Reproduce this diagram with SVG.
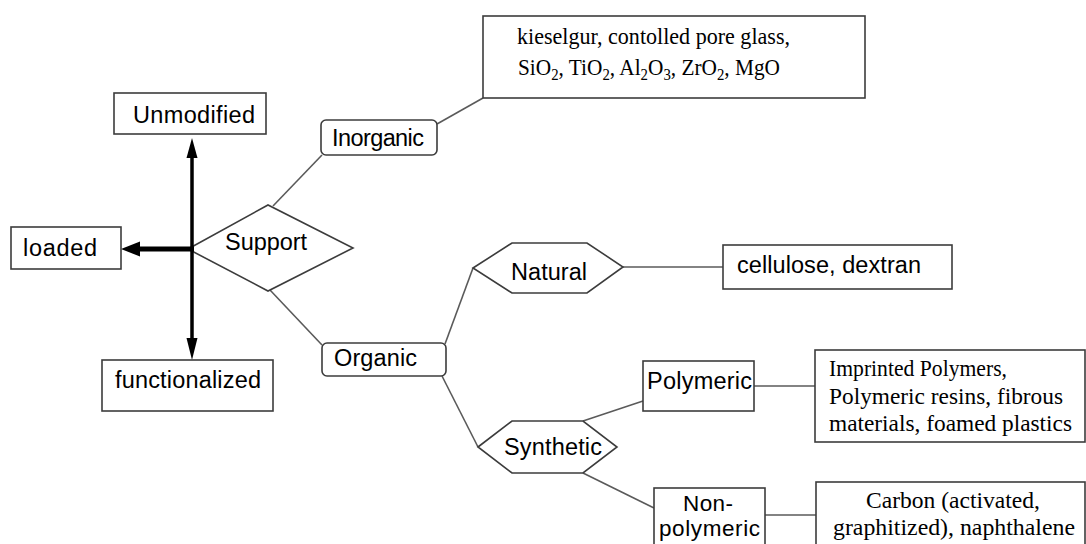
<svg xmlns="http://www.w3.org/2000/svg" width="1086" height="544" viewBox="0 0 1086 544">
<style>
.box{fill:#fff;stroke:#3c3c3c;stroke-width:1.6}
.ln{stroke:#5a5a5a;stroke-width:1.6;fill:none}
.sans{font-family:"Liberation Sans",Arial,sans-serif;font-size:23.5px;fill:#000}
.serif{font-family:"Liberation Serif","Times New Roman",serif;font-size:23px;fill:#000}
.thick{stroke:#000;fill:none}
</style>
<rect width="1086" height="544" fill="#fff"/>
<g id="connectors">
<line class="ln" x1="273" y1="206" x2="322" y2="155"/>
<line class="ln" x1="437" y1="124" x2="483" y2="98"/>
<line class="ln" x1="270" y1="290" x2="322" y2="345"/>
<line class="ln" x1="445" y1="344" x2="473" y2="268"/>
<line class="ln" x1="623" y1="267" x2="723" y2="267"/>
<line class="ln" x1="442" y1="376" x2="478" y2="447"/>
<line class="ln" x1="583" y1="421" x2="643" y2="401"/>
<line class="ln" x1="754" y1="386" x2="815" y2="386"/>
<line class="ln" x1="583" y1="473" x2="654" y2="508"/>
<line class="ln" x1="765" y1="515" x2="816" y2="515"/>
</g>
<g id="support"><polygon class="box" points="188,249 268,205 353,248 268,291"/><text class="sans" x="266" y="250" text-anchor="middle" textLength="82">Support</text></g>
<g id="arrows">
<line class="thick" x1="192" y1="154" x2="192" y2="342" stroke-width="3.5"/>
<polygon points="192,138 186.5,158 197.5,158" fill="#000"/>
<polygon points="192,360 186.5,338 197.5,338" fill="#000"/>
<line class="thick" x1="194" y1="249" x2="136" y2="249" stroke-width="5"/>
<polygon points="121,249 140,241.5 140,256.5" fill="#000"/>
</g>
<g id="unmodified"><rect class="box" x="114" y="93" width="152" height="41"/><text class="sans" x="194" y="123" text-anchor="middle" textLength="122">Unmodified</text></g>
<g id="loaded"><rect class="box" x="11" y="227" width="110" height="42"/><text class="sans" x="60" y="256" text-anchor="middle" textLength="74">loaded</text></g>
<g id="functionalized"><rect class="box" x="102" y="360" width="171" height="51"/><text class="sans" x="188" y="388" text-anchor="middle" textLength="146">functionalized</text></g>
<g id="inorganic"><rect class="box" x="321" y="120" width="116" height="35" rx="5"/><text class="sans" x="378" y="146" text-anchor="middle" textLength="92">Inorganic</text></g>
<g id="organic"><rect class="box" x="322" y="343" width="124" height="33" rx="5"/><text class="sans" x="375.5" y="366" text-anchor="middle" textLength="83">Organic</text></g>
<g id="inorganic-examples"><rect class="box" x="483" y="16" width="382" height="82"/>
<text class="serif" x="517" y="44" textLength="273" lengthAdjust="spacingAndGlyphs">kieselgur, contolled pore glass,</text>
<text class="serif" x="518" y="75" textLength="262" lengthAdjust="spacingAndGlyphs">SiO<tspan font-size="16" dy="5">2</tspan><tspan dy="-5">, TiO</tspan><tspan font-size="16" dy="5">2</tspan><tspan dy="-5">, Al</tspan><tspan font-size="16" dy="5">2</tspan><tspan dy="-5">O</tspan><tspan font-size="16" dy="5">3</tspan><tspan dy="-5">, ZrO</tspan><tspan font-size="16" dy="5">2</tspan><tspan dy="-5">, MgO</tspan></text>
</g>
<g id="natural"><polygon class="box" points="473,268 512,243 587,243 623,267 587,293 512,293"/><text class="sans" x="549" y="280" text-anchor="middle" textLength="76">Natural</text></g>
<g id="natural-examples"><rect class="box" x="723" y="245" width="229" height="44"/><text class="sans" x="829" y="273" text-anchor="middle" textLength="184">cellulose, dextran</text></g>
<g id="synthetic"><polygon class="box" points="478,447 512,421 583,421 617,447 583,473 512,473"/><text class="sans" x="553" y="455" text-anchor="middle" textLength="98">Synthetic</text></g>
<g id="polymeric"><rect class="box" x="643" y="361" width="111" height="50"/><text class="sans" x="647" y="389" textLength="105">Polymeric</text></g>
<g id="polymeric-examples"><rect class="box" x="815" y="350" width="270" height="92"/>
<text class="serif" x="829" y="376" textLength="178" lengthAdjust="spacingAndGlyphs">Imprinted Polymers,</text>
<text class="serif" x="829" y="404" textLength="234" lengthAdjust="spacingAndGlyphs">Polymeric resins, fibrous</text>
<text class="serif" x="829" y="431" textLength="243" lengthAdjust="spacingAndGlyphs">materials, foamed plastics</text>
</g>
<g id="nonpolymeric"><rect class="box" x="654" y="488" width="111" height="62"/><text class="sans" x="708" y="511" text-anchor="middle" textLength="50" style="font-size:22.5px">Non-</text><text class="sans" x="709.5" y="536" text-anchor="middle" textLength="101" style="font-size:22.5px">polymeric</text></g>
<g id="nonpolymeric-examples"><rect class="box" x="816" y="482" width="269" height="68"/>
<text class="serif" x="953" y="508" text-anchor="middle" textLength="174" lengthAdjust="spacingAndGlyphs">Carbon (activated,</text>
<text class="serif" x="954" y="535" text-anchor="middle" textLength="242" lengthAdjust="spacingAndGlyphs">graphitized), naphthalene</text>
</g>
</svg>
